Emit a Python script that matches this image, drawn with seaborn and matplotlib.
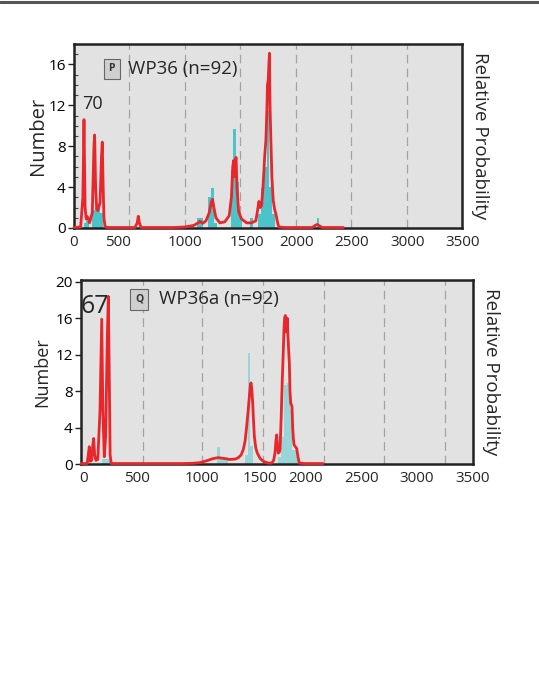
import numpy as np
import pandas as pd
import matplotlib
matplotlib.use("Agg")
import matplotlib.pyplot as plt
from matplotlib.lines import Line2D
from matplotlib.ticker import MultipleLocator
import seaborn as sns

# ---------------- data ----------------
tick_labels = ["0", "500", "1000", "1500", "2000", "2500", "3000", "3500"]

# Panel P (WP36)
p_hist_age = [100, 125, 175, 200, 225, 250,
              1125, 1150, 1225, 1250, 1275,
              1425, 1450, 1475, 1500,
              1600, 1675, 1700, 1725, 1750, 1775, 1800,
              2200]
p_hist_cnt = [0.5, 0.8, 1.8, 2.0, 2.0, 1.5,
              1.0, 1.0, 3.0, 3.9, 0.5,
              5.7, 9.7, 4.5, 1.2,
              1.0, 1.4, 3.9, 6.0, 11.4, 4.0, 1.4,
              1.0]
p_curve_age = [0, 60, 80, 90, 100, 110, 120, 130, 140, 165, 180, 186, 195, 205, 215,
               235, 248, 255, 263, 270, 280, 300, 550, 570, 580, 590, 605, 900, 1000,
               1080, 1120, 1136, 1160, 1190, 1220, 1240, 1250, 1262, 1280, 1316, 1360,
               1400, 1420, 1432, 1440, 1448, 1455, 1462, 1470, 1485, 1510, 1557, 1600,
               1640, 1660, 1668, 1680, 1692, 1705, 1720, 1731, 1740, 1745, 1752, 1758,
               1763, 1768, 1775, 1785, 1797, 1810, 1821, 1835, 1847, 1900, 2150, 2175,
               2195, 2215, 2240, 2430]
p_curve_val = [0.05, 0.1, 3.0, 10.6, 2.0, 0.9, 1.1, 0.9, 0.5, 1.5, 8.0, 9.1, 4.0, 1.8, 1.7,
               2.5, 7.0, 8.4, 4.0, 1.0, 0.15, 0.05, 0.05, 0.5, 1.15, 0.5, 0.05, 0.05, 0.1,
               0.25, 0.5, 0.65, 0.45, 0.7, 1.5, 2.6, 2.8, 2.0, 1.0, 0.5, 0.6,
               1.2, 3.0, 6.0, 6.6, 5.0, 6.5, 6.9, 4.0, 1.6, 0.9, 0.5, 0.5,
               0.7, 2.0, 2.6, 2.0, 2.2, 4.0, 7.0, 8.6, 11.5, 14.0, 14.5, 16.0,
               17.1, 12.0, 9.0, 5.0, 2.7, 1.8, 1.4, 0.6, 0.1, 0.05, 0.05, 0.25,
               0.35, 0.2, 0.05, 0.05]

# Panel Q (WP36a)
q_hist_age = [200, 225, 250, 1225, 1250, 1275, 1300, 1475, 1500, 1525,
              1775, 1800, 1825, 1850, 1875, 1900, 1925]
q_hist_cnt = [0.6, 0.6, 0.5, 1.9, 0.8, 0.8, 0.8, 1.0, 12.2, 2.0,
              0.8, 3.0, 8.7, 8.9, 6.0, 1.5, 1.5]
q_curve_age = [0, 55, 65, 74, 82, 95, 105, 113, 122, 133, 150, 170, 185, 195, 208, 220,
               235, 244, 252, 260, 270, 900, 1000, 1062, 1120, 1181, 1226, 1280, 1330,
               1380, 1405, 1430, 1449, 1465, 1479, 1492, 1503, 1512, 1518, 1525, 1533,
               1540, 1548, 1560, 1574, 1600, 1628, 1670, 1702, 1720, 1732, 1740, 1747,
               1754, 1762, 1770, 1777, 1787, 1797, 1805, 1812, 1818, 1824, 1830, 1836,
               1842, 1848, 1854, 1860, 1866, 1872, 1878, 1884, 1890, 1896, 1902, 1914,
               1926, 1937, 1949, 2000, 2160]
q_curve_val = [0.05, 0.05, 1.0, 1.9, 0.3, 0.4, 2.0, 2.8, 1.0, 0.4, 0.5, 6.0, 15.9, 6.0, 0.8, 3.0,
               14.0, 18.4, 10.0, 1.0, 0.05, 0.05, 0.08, 0.15, 0.35, 0.6, 0.7, 0.6, 0.5,
               0.55, 0.7, 1.0, 1.6, 2.5, 4.1, 5.8, 7.4, 8.6, 8.9, 8.2, 6.7,
               4.8, 3.0, 1.8, 1.2, 0.6, 0.3, 0.1, 0.1, 0.4, 1.2, 2.5, 3.2,
               2.0, 1.2, 1.3, 1.6, 5.0, 9.2, 12.0, 14.7, 16.0, 16.3, 14.5, 15.0,
               16.0, 14.0, 12.5, 11.1, 8.0, 6.7, 6.5, 6.3, 4.0, 2.8, 2.1, 1.9,
               1.7, 0.8, 0.1, 0.05, 0.05]

# ---------------- style ----------------
sns.set_style("white")
plt.rcParams['font.family'] = ['Open Sans', 'DejaVu Sans']

BG = "#e1e2e1"
RED = "#e8262b"
GRID = "#a3a3a3"

fig = plt.figure(figsize=(5.39, 6.88), dpi=100)
fig.add_artist(Line2D([0, 1], [1 - 2.0 / 688, 1 - 2.0 / 688], transform=fig.transFigure,
                      color="#555555", lw=2.2))


def panel(rect, hist_age, hist_cnt, curve_age, curve_val, ylim, yticks, grid_x,
          label_pos, hist_color, letter, title, count_text, count_xy, count_size,
          letter_xy, title_xy, minor, ylab_x, rlab_x, name_size):
    ax = fig.add_axes(rect)
    ax.set_facecolor(BG)
    df_h = pd.DataFrame({"age": hist_age, "n": hist_cnt})
    sns.histplot(data=df_h, x="age", weights="n", binwidth=25, binrange=(-12.5, 3512.5),
                 color=hist_color, alpha=1, edgecolor="none", linewidth=0, ax=ax, zorder=2)
    df_c = pd.DataFrame({"age": curve_age, "v": curve_val})
    sns.lineplot(data=df_c, x="age", y="v", color=RED, lw=2.0, ax=ax, estimator=None,
                 sort=False, zorder=4)
    for ln in ax.lines:
        ln.set_clip_on(False)
    for gx in grid_x:
        ax.axvline(gx, color=GRID, lw=0.9, ls=(0, (7, 4)), zorder=1)
    ax.set_xlim(0, 3500)
    ax.set_ylim(*ylim)
    ax.set_yticks(yticks)
    ax.set_yticklabels([str(t) for t in yticks], fontsize=11)
    ax.set_xticks([])
    ax.set_xlabel("")
    ax.set_ylabel("")
    for xp, lab in zip(label_pos, tick_labels):
        ax.text(xp, -0.04, lab, transform=ax.get_xaxis_transform(), ha="center",
                va="top", fontsize=11)
    ax.tick_params(axis="y", which="major", direction="out", length=4, width=1,
                   left=True, pad=2, colors="#222222", labelcolor="black")
    if minor:
        ax.yaxis.set_minor_locator(MultipleLocator(1))
        ax.tick_params(axis="y", which="minor", direction="in", length=3, width=0.8,
                       left=True, colors="#444444")
    for s in ax.spines.values():
        s.set_visible(True)
        s.set_color("#222222")
        s.set_linewidth(1.8)
        s.set_zorder(3)
    ax.text(ylab_x, 0.5, "Number", transform=ax.transAxes, rotation=90,
            ha="center", va="center", fontsize=name_size)
    ax.text(rlab_x, 0.5, "Relative Probability", transform=ax.transAxes, rotation=270,
            ha="center", va="center", fontsize=13.5)
    ax.text(letter_xy[0], letter_xy[1], letter, transform=ax.transAxes, fontsize=7.5,
            ha="center", va="center", zorder=6, fontweight="bold", color="#333333",
            bbox=dict(boxstyle="square,pad=0.45", fc="#cfcfcf", ec="#666666", lw=0.8))
    ax.text(title_xy[0], title_xy[1], title, transform=ax.transAxes, fontsize=13.5,
            ha="left", va="center", zorder=6)
    ax.text(count_xy[0], count_xy[1], count_text, transform=ax.transAxes,
            fontsize=count_size, ha="left", va="center", zorder=6)
    return ax


panel([74 / 539, 1 - 228 / 688, 388 / 539, 184 / 688],
      p_hist_age, p_hist_cnt, p_curve_age, p_curve_val,
      (0, 18), [0, 4, 8, 12, 16], [500, 1000, 1500, 2000, 2500, 3000],
      [0, 396, 1001, 1560, 2008, 2504, 3007, 3503], "#4cc3c8",
      "P", "WP36 (n=92)", "70", (0.022, 0.675), 13,
      (0.097, 0.865), (0.138, 0.865), True, -0.093, 1.046, 14.5)

panel([81 / 539, 1 - 464 / 688, 392 / 539, 184 / 688],
      q_hist_age, q_hist_cnt, q_curve_age, q_curve_val,
      (0, 20.2), [0, 4, 8, 12, 16, 20], [553, 1080, 1625, 2170, 2705, 3250],
      [27, 504, 1078, 1598, 2009, 2509, 3000, 3500], "#98d5d7",
      "Q", "WP36a (n=92)", "67", (0.0, 0.855), 18,
      (0.148, 0.895), (0.2, 0.895), False, -0.1, 1.045, 13)

fig.savefig("out.png", dpi=100)
